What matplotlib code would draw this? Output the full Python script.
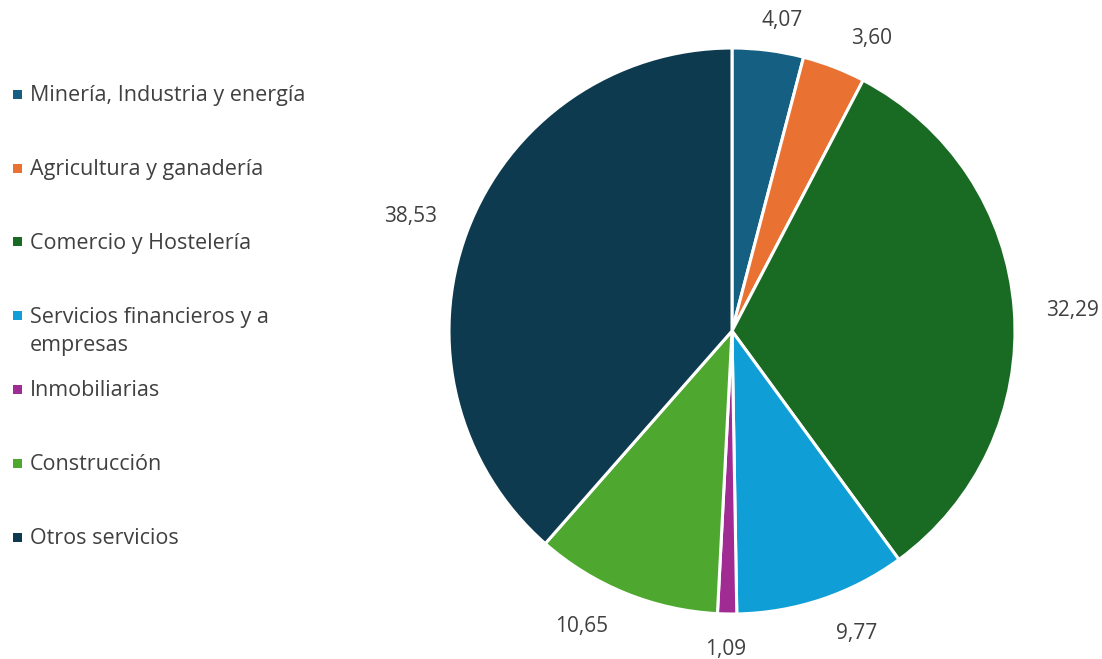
import numpy as np
import matplotlib.pyplot as plt
from matplotlib.patches import Rectangle

# datos del gráfico
sectores = ['Minería, Industria y energía', 'Agricultura y ganadería', 'Comercio y Hostelería',
            'Servicios financieros y a\nempresas', 'Inmobiliarias', 'Construcción', 'Otros servicios']
valores = [4.07, 3.60, 32.29, 9.77, 1.09, 10.65, 38.53]
colores = ['#156082', '#E97132', '#196B24', '#0F9ED5', '#A02B93', '#4EA72E', '#0D3A4E']

plt.rcParams['font.family'] = ['Open Sans', 'DejaVu Sans']
gris = '#404040'

fig = plt.figure(figsize=(11.02, 6.59), dpi=100)
W, H = 1102, 659
cx, cy, r = 732, 331, 283  # centro y radio en píxeles
ax = fig.add_axes([(cx - r) / W, (H - cy - r) / H, 2 * r / W, 2 * r / H])

wedges, _ = ax.pie(valores, colors=colores, startangle=90, counterclock=False,
                   radius=1, wedgeprops=dict(edgecolor='white', linewidth=2.2))
ax.set_xlim(-1, 1)
ax.set_ylim(-1, 1)
ax.set_aspect('equal')

# etiquetas de datos fuera del sector (como Excel: la caja toca un punto a 1.085 r)
renderer = fig.canvas.get_renderer()
for w, v in zip(wedges, valores):
    ang = np.deg2rad((w.theta1 + w.theta2) / 2)
    txt = f'{v:.2f}'.replace('.', ',')
    t = ax.text(0, 0, txt, ha='center', va='center', fontsize=15, color=gris, clip_on=False)
    bb = t.get_window_extent(renderer)
    hw = (bb.width / 2 + 8) / r
    hh = 11 / r
    c, s = np.cos(ang), np.sin(ang)
    x = 1.085 * c + hw * np.clip(3 * c, -1, 1)
    y = 1.085 * s + hh * np.clip(3 * s, -1, 1)
    if s > 0:
        y -= 5 / r
    t.set_position((x, y))

# leyenda manual
ys = [94, 168, 241, 315, 389, 463, 537]
for nombre, col, y in zip(sectores, colores, ys):
    for i, linea in enumerate(nombre.split('\n')):
        fig.text(30 / W, 1 - (y + 2 + 28 * i) / H, linea, ha='left', va='center',
                 fontsize=15.5, color=gris)
    fig.patches.append(Rectangle((13 / W, 1 - (y + 5) / H), 9 / W, 9 / H,
                                 transform=fig.transFigure, facecolor=col, edgecolor='none'))

fig.savefig('out.png', dpi=100)
